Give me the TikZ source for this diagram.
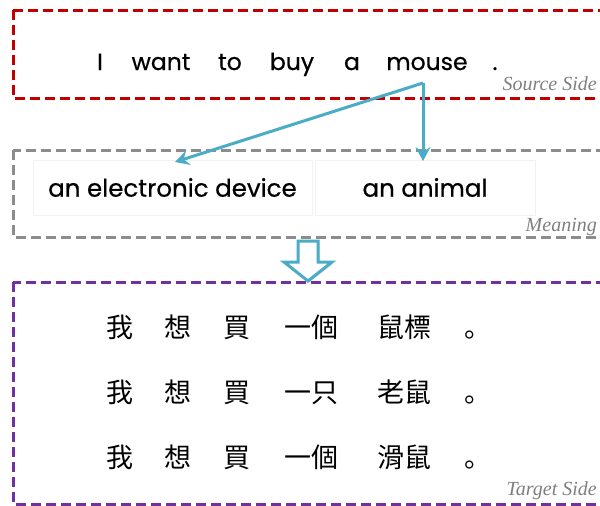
\documentclass[tikz,border=0pt]{standalone}
\usepackage{fontspec}
\setmainfont{Poppins}
\newfontfamily\engfont{Poppins}[FakeBold=0.6]
\newfontfamily\lblfont{Liberation Serif}
\newfontfamily\cjk{Noto Sans CJK TC}
\newfontfamily\cjksc{Noto Sans CJK SC}
\usetikzlibrary{arrows.meta,shadows}
\definecolor{srcred}{HTML}{C00000}
\definecolor{mgray}{HTML}{8C8C8C}
\definecolor{tpurple}{HTML}{7030A0}
\definecolor{ablue}{HTML}{4BACC6}
\definecolor{lblgray}{HTML}{7F7F7F}
\tikzset{
  region/.style={line width=3pt, dash pattern=on 10pt off 5pt},
  srcw/.style={anchor=base, inner sep=0pt, font=\engfont\fontsize{23.5}{28}\selectfont},
  meanbox/.style={draw=black!5, line width=0.6pt, minimum height=55pt, inner sep=0pt, font=\engfont\fontsize{24.5}{29}\selectfont},
  sidelbl/.style={anchor=base east, inner sep=0pt, text=lblgray, font=\lblfont\itshape\fontsize{20}{24}\selectfont},
  zh/.style={anchor=base, inner sep=0pt, font=\cjk\fontsize{27}{32}\selectfont},
  zhp/.style={anchor=base, inner sep=0pt, font=\cjksc\fontsize{27}{32}\selectfont},
  bluearr/.style={draw=ablue, line width=3pt, -{Stealth[width=15pt,length=14pt,inset=5pt]}},
  hollow/.style={draw=ablue, line width=3pt, fill=white, line join=miter,
    drop shadow={opacity=0.25, shadow xshift=1.5pt, shadow yshift=-1.5pt}}
}
\begin{document}
\begin{tikzpicture}[x=1pt,y=-1pt]
\useasboundingbox (0,0) rectangle (600,506);
\clip (0,0) rectangle (600,506);
\fill[white] (0,0) rectangle (600,506);
% regions
\draw[region, draw=srcred] (13,10) rectangle (650,98);
\draw[region, draw=mgray] (13,150) rectangle (650,237);
\draw[region, draw=tpurple] (13,282) rectangle (650,504);
% source sentence
\node[srcw] (w1) at (100,70) {I};
\node[srcw] (w2) at (161,70) {want};
\node[srcw] (w3) at (230,70) {to};
\node[srcw] (w4) at (292,70) {buy};
\node[srcw] (w5) at (352,70) {a};
\node[srcw] (w6) at (427,70) {mouse};
\node[srcw] (w7) at (495,70) {.};
\node[sidelbl] (lsrc) at (597,90) {Source Side};
% meanings
\node[meanbox, minimum width=279pt] (m1) at (172.5,187.5) {an electronic device};
\node[meanbox, minimum width=220pt] (m2) at (425,187.5) {an animal};
\node[sidelbl] (lmean) at (597,231) {Meaning};
% arrows
\coordinate (src) at (423,83);
\coordinate (d1) at (175,162);
\coordinate (d2) at (423,161);
\draw[bluearr, line join=miter] (src) -- (d1);
\draw[bluearr] (src) -- (d2);
% hollow arrow
\path[hollow] (298,241) -- (318,241) -- (318,262) -- (332,262) -- (308,281)
  -- (284,262) -- (298,262) -- cycle;
% target sentences
\foreach \r/\y/\a/\b in {1/337/一個/鼠標, 2/402/一只/老鼠, 3/467/一個/滑鼠}{
  \node[zh] (t\r a) at (120,\y) {我};
  \node[zh] (t\r b) at (178,\y) {想};
  \node[zh] (t\r c) at (237,\y) {買};
  \node[zh] (t\r d) at (311,\y) {\a};
  \node[zh] (t\r e) at (404,\y) {\b};
  \node[zhp] (t\r f) at (478,\y) {。};
}
\node[sidelbl] (ltgt) at (597,495) {Target Side};
\end{tikzpicture}
\end{document}
